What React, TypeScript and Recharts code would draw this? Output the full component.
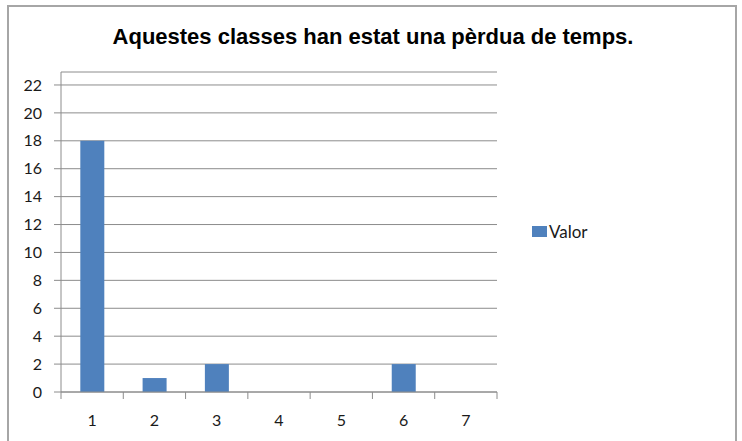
import React from "react";
import {
  BarChart,
  Bar,
  XAxis,
  YAxis,
  CartesianGrid,
} from "recharts";

const categories = ["1", "2", "3", "4", "5", "6", "7"];
const valor = [18, 1, 2, 0, 0, 2, 0];
const yTicks = [0, 2, 4, 6, 8, 10, 12, 14, 16, 18, 20, 22];

const data = categories.map((c, i) => ({ cat: c, Valor: valor[i] }));

const labelFont = { fontFamily: "Lato, 'Open Sans', sans-serif", fontSize: 16, fill: "#1a1a1a" };
const axisGray = "#8c8c8c";

// category label in the middle, tick marks on the band edges (Excel style)
function EdgeTick(props: any) {
  const { x, y, payload, index, visibleTicksCount } = props;
  const half = payload.offset || 0;
  const last = index === visibleTicksCount - 1;
  return (
    <g>
      <line x1={x - half} x2={x - half} y1={y - 7} y2={y} stroke={axisGray} />
      {last && <line x1={x + half} x2={x + half} y1={y - 7} y2={y} stroke={axisGray} />}
      <text x={x} y={y + 27} textAnchor="middle" {...labelFont}>
        {payload.value}
      </text>
    </g>
  );
}

export default function App() {
  return (
    <div style={{ position: "absolute", left: 0, top: 0, width: 742, height: 441, background: "#fff", overflow: "hidden" }}>
      <div
        style={{
          position: "absolute",
          left: 7,
          top: 5,
          width: 730,
          height: 450,
          border: "2px solid #a6a6a6",
          boxSizing: "border-box",
        }}
      />
      <div
        style={{
          position: "absolute",
          left: 0,
          top: 24,
          width: 746,
          textAlign: "center",
          fontFamily: "'Liberation Sans', Arial, sans-serif",
          fontWeight: "bold",
          fontSize: 22,
          color: "#000",
        }}
      >
        Aquestes classes han estat una pèrdua de temps.
      </div>
      <div style={{ position: "absolute", left: 0, top: 0 }}>
        <BarChart
          width={742}
          height={441}
          data={data}
          margin={{ top: 72, right: 245, bottom: 0, left: 0 }}
          barCategoryGap="31%"
        >
          <CartesianGrid horizontal vertical={false} stroke={axisGray} />
          <XAxis
            dataKey="cat"
            stroke={axisGray}
            tickLine={false}
            tickSize={7}
            tickMargin={0}
            tick={<EdgeTick />}
            height={49}
            interval={0}
          />
          <YAxis
            domain={[0, 22.93]}
            ticks={yTicks}
            interval={0}
            width={61}
            tickSize={7}
            tickMargin={12}
            stroke={axisGray}
            tick={labelFont}
            allowDataOverflow
          />
          <Bar dataKey="Valor" fill="#4F81BD" isAnimationActive={false} />
        </BarChart>
      </div>
      <div
        style={{
          position: "absolute",
          left: 532,
          top: 221,
          display: "flex",
          alignItems: "center",
          fontFamily: "Lato, sans-serif",
          fontSize: 17,
          color: "#1a1a1a",
        }}
      >
        <div style={{ width: 15, height: 11, background: "#4F81BD", marginRight: 2 }} />
        <span>Valor</span>
      </div>
    </div>
  );
}
